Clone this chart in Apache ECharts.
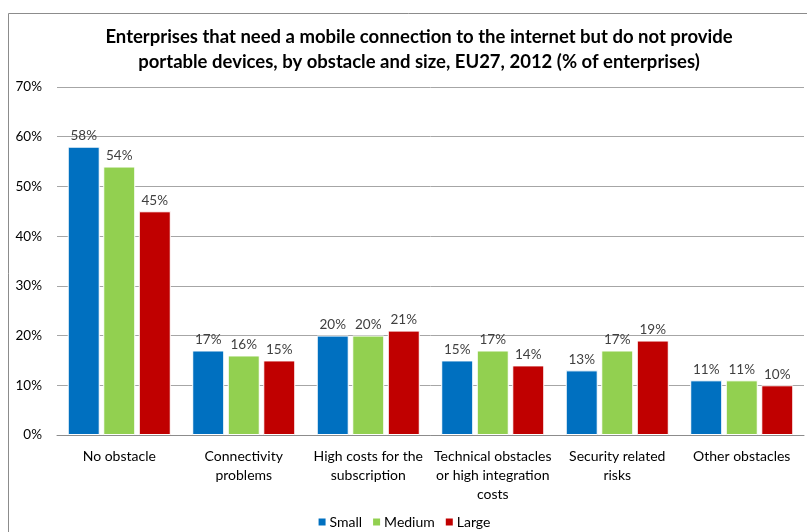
<!DOCTYPE html>
<html>
<head>
<meta charset="utf-8">
<script src="https://cdn.jsdelivr.net/npm/echarts@6/dist/echarts.min.js"></script>
<style>
  html, body { margin: 0; padding: 0; background: #fff; }
  #chart { width: 807px; height: 532px; }
</style>
</head>
<body>
<div id="chart"></div>
<script>
// Obstacle categories (x axis)
const categories = [
  'No obstacle',
  'Connectivity\nproblems',
  'High costs for the\nsubscription',
  'Technical obstacles\nor high integration\ncosts',
  'Security related\nrisks',
  'Other obstacles'
];

// Share of enterprises (%) by enterprise size
const small  = [58, 17, 20, 15, 13, 11];
const medium = [54, 16, 20, 17, 17, 11];
const large  = [45, 15, 21, 14, 19, 10];

const seriesNames = ['Small', 'Medium', 'Large'];
const seriesColors = ['#0070C0', '#92D050', '#C00000'];

const FONT = 'Lato, "Open Sans", sans-serif';

const chart = echarts.init(document.getElementById('chart'));

const makeSeries = (name, data, color) => ({
  name: name,
  type: 'bar',
  data: data,
  barWidth: 32,
  barGap: '11%',
  itemStyle: { color: color, borderColor: '#ffffff', borderWidth: 1 },
  label: {
    show: true,
    position: 'top',
    distance: 4,
    formatter: p => p.value + '%',
    color: '#404040',
    fontSize: 13.5,
    fontFamily: FONT
  }
});

chart.setOption({
  animation: false,
  backgroundColor: '#ffffff',
  graphic: [{
    type: 'rect',
    shape: { x: 8.5, y: 13.5, width: 820, height: 540 },
    style: { fill: 'none', stroke: '#8c8c8c', lineWidth: 1 },
    silent: true,
    z: -10
  }],
  title: {
    text: 'Enterprises that need a mobile connection to the internet but do not provide\nportable devices, by obstacle and size, EU27, 2012 (% of enterprises)',
    left: 414,
    textAlign: 'center',
    top: 20,
    textStyle: {
      fontFamily: FONT,
      fontSize: 18.5,
      fontWeight: 'bold',
      color: '#000000',
      lineHeight: 25
    }
  },
  legend: {
    bottom: -2,
    left: 'center',
    itemWidth: 9,
    itemHeight: 9,
    itemGap: 9,
    icon: 'rect',
    textStyle: { fontFamily: FONT, fontSize: 14, color: '#000', padding: [0, 0, 0, -2] },
    data: seriesNames
  },
  grid: { left: 57, right: 3, top: 87, bottom: 97, containLabel: false },
  xAxis: {
    type: 'category',
    data: categories,
    axisTick: { show: false },
    axisLine: { lineStyle: { color: '#8c8c8c', width: 1 } },
    axisLabel: {
      interval: 0,
      margin: 12,
      fontFamily: FONT,
      fontSize: 14,
      color: '#000',
      lineHeight: 19
    }
  },
  yAxis: {
    type: 'value',
    min: 0,
    max: 70,
    interval: 10,
    axisLine: { show: false },
    axisTick: { show: false },
    splitLine: { lineStyle: { color: '#a6a6a6', width: 1 } },
    axisLabel: {
      formatter: '{value}%',
      margin: 15,
      fontFamily: FONT,
      fontSize: 13.5,
      color: '#000'
    }
  },
  series: [
    makeSeries(seriesNames[0], small, seriesColors[0]),
    makeSeries(seriesNames[1], medium, seriesColors[1]),
    makeSeries(seriesNames[2], large, seriesColors[2])
  ]
});
</script>
</body>
</html>
